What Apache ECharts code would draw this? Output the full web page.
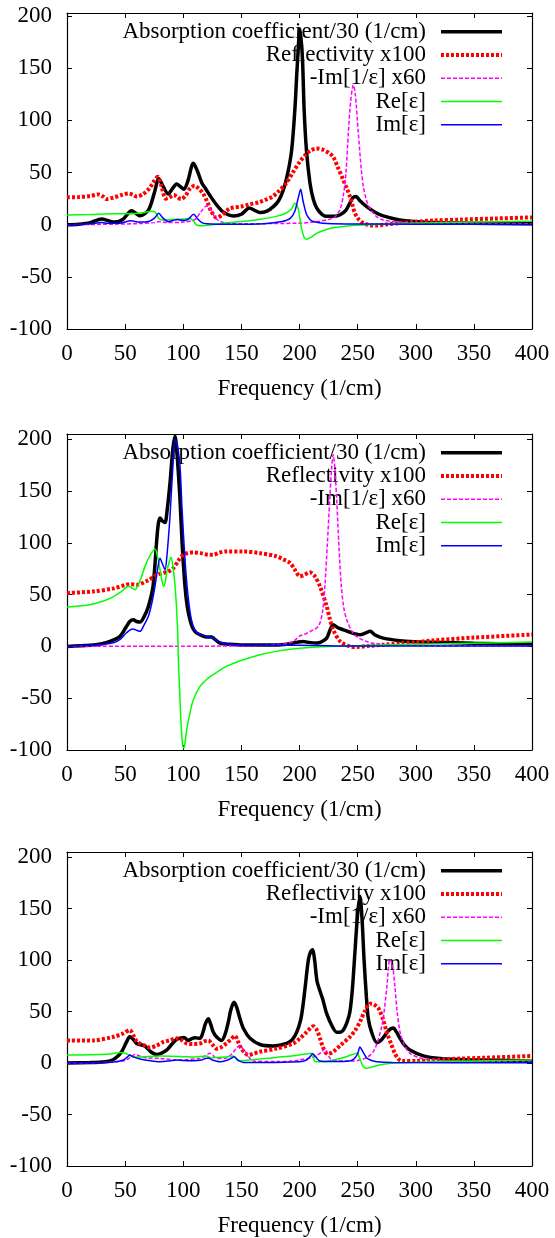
<!DOCTYPE html>
<html>
<head>
<meta charset="utf-8">
<script src="https://cdn.jsdelivr.net/npm/echarts@6/dist/echarts.min.js"></script>
<style>
html,body{margin:0;padding:0;background:#fff;}
#chart{width:555px;height:1238px;}
</style>
</head>
<body>
<div id="chart"></div>
<script>
// ---- labels ----
const seriesNames = ['Absorption coefficient/30 (1/cm)', 'Reflectivity x100', '-Im[1/ε] x60', 'Re[ε]', 'Im[ε]'];
const xTitle = 'Frequency (1/cm)';
const xTicks = [0, 50, 100, 150, 200, 250, 300, 350, 400];
const yTicks = [-100, -50, 0, 50, 100, 150, 200];
const yTops = [203, 205, 205];

// ---- panel 1 ----
const p1Absorption = [[0,0],[10,0.5],[20,2],[30,5.5],[35,4],[41,2.5],[48,5],[55.6,13.5],[62.8,8.5],[70,14],[75,30],[79,44],[83,36],[87,29.5],[91,35],[94.3,39],[97,37],[100.6,34],[104,42],[108.7,59],[112,52],[116,40],[119,35],[123,28],[128,20],[134,12.5],[143,8.4],[150,10],[156.8,16],[161,14],[166,11.6],[172,13],[177.5,17.3],[182,23],[186,33],[190,50],[193.3,72],[196,110],[198,151],[200.4,188],[202.5,160],[204,110],[206,71],[209,40],[212,24],[216,14],[223,8],[230,8],[235,9.5],[240,14],[243.4,21],[246,26],[248.6,27],[252,23],[257.8,17.3],[265,12],[272,8.4],[286,4.6],[300,3],[315,2],[350,1.5],[400,1]];
const p1Reflectivity = [[0,26.3],[10,26.5],[20,27.5],[27,29],[31,27],[34,24.6],[40,26],[47,28.5],[52.8,30],[56,29],[60,27],[65,29],[71,35],[75,42],[78,46],[81,38],[85,25],[88,26],[92,28.5],[95,26.5],[98,24.5],[102,28],[106,35],[109.7,37.4],[113,35],[117,30],[121,21],[124,13],[128.5,6.8],[133,9],[140,15.4],[150,17.5],[157,19.5],[165,21.5],[171,24],[177,27],[182,32],[188,39],[194,49.5],[200,60],[206,68],[210,71.5],[214.8,73],[220,72],[225,69],[229,65],[233,55],[238,42],[241,34],[243.4,27],[245.5,19],[247.7,11],[251,5],[255,1.4],[260,-0.3],[266,-0.8],[275,0.3],[286,1.5],[300,2.8],[315,4],[340,5],[370,6],[400,7]];
const p1LossFn = [[0,0],[40,0.5],[60,1],[75,2],[80,3],[85,2],[100,2.5],[110,5],[115,12],[120,18],[124,14],[128,6],[135,2],[150,1],[200,1.5],[215,3],[225,5],[230,7],[235,15],[238,30],[240,50],[242,88],[244,118],[246.3,134],[248,125],[250.6,88],[253,55],[255,36],[258,22],[261,15],[266,8],[272,4.6],[285,2.5],[300,1.8],[350,1],[400,0.8]];
const p1ReEps = [[0,9.4],[20,9.8],[40,10.5],[55,10.5],[65,11.5],[73,13],[76,12],[79,6],[82,4.6],[90,5],[100,5.5],[106,6],[109,3],[112,-0.5],[116,-1],[125,0],[135,1.5],[150,3],[165,5],[180,8],[188,11],[193,15],[196,20.5],[198.5,17],[200,8],[202,-5],[204,-12],[206,-14],[210,-12],[215,-8],[222,-5],[229,-3],[243,-1],[260,0],[300,1.5],[350,2.5],[400,3.4]];
const p1ImEps = [[0,0],[20,0.8],[30,2],[35,1.5],[45,1.5],[55,3.7],[62,2.5],[70,3],[75,6],[79,11],[82,7],[87,3],[91,4],[95,5],[100,4],[104,5],[109,10],[112,6],[116,2],[120,1],[140,0.5],[170,1],[185,3],[192,6],[196,13],[199,26],[201,34],[203,23],[206,10],[209,5],[212,3],[220,1.5],[240,0.8],[300,0.5],[400,0.3]];

// ---- panel 2 ----
const p2Absorption = [[0,0],[20,1],[30,2.5],[37,4.8],[45.6,9.7],[51,19],[54,24],[57,25.7],[60,24],[62.8,23.5],[66,28],[70,38.6],[74,58],[77,100],[78.5,118],[80,124],[82,121],[84.3,119.7],[86,130],[88.6,157.7],[91,190],[92.9,203],[95,180],[97.2,141.6],[99,100],[101.5,58],[103.5,38],[105.8,25.7],[108,18],[111.5,12.9],[116,10.5],[120,9],[124.4,9],[127,7],[131.6,3.2],[140,2],[151.7,1.3],[180,1.3],[190,2.3],[197.6,3.9],[203,4.8],[207,4],[214.8,3.2],[219,4.5],[223.4,8],[226,15],[229,21],[233,18],[237.7,16],[245,13],[252,11.3],[257,13],[260.7,14.5],[265,11],[272,8],[286.5,5.5],[300,4.5],[315,3.9],[350,3],[400,2.3]];
const p2Reflectivity = [[0,51.5],[22.6,53],[40,56],[51,59.5],[55,60],[60,59.5],[70,64],[77,69],[83,71],[87,72],[91.5,75.6],[96,83],[100,88.5],[104,90],[108.7,90.8],[115,90],[122,88.5],[126,88.5],[131,90.5],[137,91.7],[151.7,91.7],[166,90],[180,87],[186,84],[192,80.5],[196,74],[200.4,67.6],[204,69],[209,71.5],[213,68],[217.6,58],[223.4,38.6],[226,27],[229,16],[235,4.8],[243.4,0],[249,-0.6],[260,0.5],[272,1.6],[300,4],[315,5.8],[350,8.5],[400,11.4]];
const p2LossFn = [[0,0],[100,0.2],[150,0.5],[185,2],[194.7,4.8],[200,10],[205,12],[211.9,16],[215,18],[217.6,22.5],[220,35],[222,61],[224,100],[226,141.6],[227.5,170],[229,185],[230.5,170],[232,141.6],[234,95],[236,58],[238,38],[240.6,25.7],[246,12.9],[251,8],[257.8,4.8],[265,2.5],[275,1.6],[300,0.8],[400,0.4]];
const p2ReEps = [[0,38],[10,39],[22.6,41],[32,44],[40,48],[47,53],[52.8,58],[58.5,54.7],[63,64],[67,77],[71,87],[75.7,94],[78,86],[80,74],[82,62],[83,58],[84.5,62],[85.7,70.8],[88,82],[89.5,86],[91,78],[93,58],[95,20],[96,-19],[97,-45],[97.8,-67.6],[99,-90],[100,-98],[101,-97],[103,-80.5],[106,-63],[108.7,-51.5],[114.4,-38.6],[120,-32],[124.4,-28.3],[130,-24],[137,-19.3],[151.7,-12.9],[166,-8],[180,-4.8],[200.4,-1.9],[215,-0.5],[240,0.5],[300,2],[350,3],[400,4.2]];
const p2ImEps = [[0,0],[20,1],[30,2],[40,3.5],[46,7],[51,12.9],[56.5,16.7],[60,15.5],[62.8,14.5],[66,20],[70,29],[73,42],[75.7,58],[78,75],[80,85],[82,80],[84.3,74],[86,88],[88.6,125.5],[91,172],[93,199.5],[95,194],[97.2,174],[99,132],[101.5,83.7],[104,50],[107,25.7],[110,16],[114.4,11.3],[120,9.5],[124.4,8.7],[128,6],[134.5,3.2],[145,1.5],[170,1],[200,1],[230,0.5],[400,0.3]];

// ---- panel 3 ----
const p3Absorption = [[0,0],[20,0.5],[30,1],[37,2],[42,5],[47,11],[51,20],[54,25.5],[57,23],[60,19],[62.8,18],[67,16.5],[72,11],[77,8.4],[81,9.5],[85.7,12.6],[90,18],[94.3,23],[97,24],[100.6,24.8],[104.4,22],[107,23.5],[110,24.5],[114.4,24],[117,30],[119,38],[121.6,43],[123.5,38],[125.9,30],[129,25],[133,22],[136,28],[138.8,40],[141,52],[143.7,59],[146,54],[148.8,43],[152,33],[157.4,24],[166,18],[177.5,16.5],[189,19],[194,23],[197.6,30],[201,42],[203,56],[205,75],[207.6,100],[209.5,108],[211.3,110],[213,100],[215,80],[217.6,70],[220,62],[223.4,48],[228,36],[232,30],[235,30],[237.7,32],[241,40],[243.4,50],[245.5,72],[247.7,108],[250,145],[252,162],[253.8,140],[255.5,101],[257.5,65],[259.2,43],[262,30],[266.5,20],[270,22],[273.5,27],[277,32],[280.7,34],[283.5,30],[286.5,24],[290,18],[295,12.6],[306.5,7],[321,4.5],[343.8,3.2],[400,2]];
const p3Reflectivity = [[0,22],[22.6,22],[40,25.5],[48,28.5],[54,32],[57,27],[60,21],[62.8,19],[67,17],[71.4,15],[77,17],[83,20.6],[88,22],[94.3,24],[99,22],[103,19],[108,18.5],[114.4,19],[118,21],[121.6,22],[125,18],[128.7,14],[132,15],[137,19],[141,23],[144.5,26.5],[147,21],[150,14],[153,10],[156,7.7],[160,9],[166,11],[180,14],[194.7,19],[200.4,24],[206,30],[212,35.8],[215,32],[217.6,24],[220,16],[223.4,9.4],[226,9.5],[229,11],[236,18],[243.4,25.5],[248,32],[252,40],[256,50],[260.7,57.7],[264,57],[268,53],[272,42],[275,30],[279,18],[282,9.4],[285,4],[288,2],[300.8,2],[329.5,3.9],[360,5.2],[400,6.9]];
const p3LossFn = [[0,0],[30,0.5],[45,1.5],[51,3],[55,6],[58.5,8.4],[62,7],[68.5,5],[80,4.5],[94.3,3],[105,3.5],[114.4,4.5],[119,7],[123,9.4],[126,7],[128.7,4.5],[137,5],[142,9],[146,15],[148.8,17.4],[151,14],[154.5,9.4],[157,5],[160,2],[180,1.5],[194.7,2],[200,3],[209,5],[214,7],[217.6,9.4],[220,12],[222,14],[224,10],[226,5],[229,3],[240,2],[246,2],[255,4],[260,7],[263.5,11],[267,20],[270,32],[272,43],[275,72],[277.8,101],[280,95],[282,75],[284,50],[286.5,30],[290,18],[295,9.4],[305,4.5],[315,3],[350,1.5],[400,1]];
const p3ReEps = [[0,7.7],[20,8],[37,8.7],[45.6,10.3],[49,10],[53,8],[57,6],[60,5.8],[80,6.8],[100,6.2],[108.7,5.8],[120,6.8],[122,6],[124,5],[130,5.5],[137,5.8],[143,6.8],[145,5],[147,2],[152,2.5],[166,3.9],[180,5.5],[194.7,7],[205,8.8],[210.5,9.5],[212,6],[213.5,1.3],[220.5,1.3],[235,4.5],[245,8],[249.5,9.4],[251,7],[253,1],[255,-3.5],[257.8,-5.2],[262,-4],[266.5,-2.6],[272,-1.2],[280.7,0],[300,0.8],[315,1.3],[350,2],[400,3]];
const p3ImEps = [[0,0],[30,0.5],[40,1],[48.5,3],[52,6],[54,7.7],[57,6],[62.8,3.9],[70,2.5],[80,1.3],[88,2],[94.3,3],[100,2.5],[108.7,2.3],[116,3],[119,4.5],[121.6,5],[125,3],[131.6,1.3],[137,2.5],[141,4.5],[143.7,6],[147,3],[151.7,0.6],[170,0.5],[200,1.3],[206,3],[209,6],[211.3,9],[214,6],[217.6,2],[230,1.5],[243,2],[247,4],[250,9],[252,15.5],[254,12],[257.8,5],[262,2.5],[266.5,1.3],[280,0.6],[400,0.3]];

const panels = [
  [p1Absorption, p1Reflectivity, p1LossFn, p1ReEps, p1ImEps],
  [p2Absorption, p2Reflectivity, p2LossFn, p2ReEps, p2ImEps],
  [p3Absorption, p3Reflectivity, p3LossFn, p3ReEps, p3ImEps]
];

// ---- styling ----
const FONT = '"Liberation Serif", "Times New Roman", serif';
const FS = 23;
const lineStyles = [
  {color: '#000000', width: 3.5, type: 'solid'},
  {color: '#ff0000', width: 4, type: [3, 2]},
  {color: '#ff00ff', width: 1.5, type: [4, 2]},
  {color: '#00ff00', width: 1.5, type: 'solid'},
  {color: '#0000ff', width: 1.5, type: 'solid'}
];
const gridTops = [13, 434, 852];
const GRID_LEFT = 67, GRID_W = 465, GRID_H = 316;

const grid = [], xAxis = [], yAxis = [], series = [], legend = [];
const lineAxis = {show: true, onZero: false, lineStyle: {color: '#000', width: 1.2}};
const tickIn = {show: true, inside: true, length: 5, lineStyle: {color: '#000', width: 1}};
const labelStyle = {fontFamily: FONT, fontSize: FS, color: '#000'};

gridTops.forEach((top, i) => {
  grid.push({left: GRID_LEFT, top: top, width: GRID_W, height: GRID_H, containLabel: false});
  const xBase = {type: 'value', gridIndex: i, min: xTicks[0], max: xTicks[xTicks.length - 1],
    interval: xTicks[1] - xTicks[0], splitLine: {show: false}, axisLine: lineAxis, axisTick: tickIn};
  xAxis.push(Object.assign({}, xBase, {position: 'bottom',
    axisLabel: Object.assign({margin: 13}, labelStyle),
    name: xTitle, nameLocation: 'middle', nameGap: 48,
    nameTextStyle: {fontFamily: FONT, fontSize: FS, color: '#000'}}));
  xAxis.push(Object.assign({}, xBase, {position: 'top', axisLabel: {show: false}}));
  const yBase = {type: 'value', gridIndex: i, min: yTicks[0], max: yTops[i],
    interval: yTicks[1] - yTicks[0], splitLine: {show: false}, axisLine: lineAxis, axisTick: tickIn};
  yAxis.push(Object.assign({}, yBase, {position: 'left',
    axisLabel: Object.assign({margin: 15, showMaxLabel: false,
      formatter: v => (yTicks.indexOf(v) >= 0 ? String(v) : '')}, labelStyle)}));
  yAxis.push(Object.assign({}, yBase, {position: 'right', axisLabel: {show: false}}));

  panels[i].forEach((data, k) => {
    series.push({
      type: 'line', name: seriesNames[k], xAxisIndex: 2 * i, yAxisIndex: 2 * i,
      data: data, symbol: 'none', showSymbol: false, smooth: 0.3, clip: true, silent: true,
      lineStyle: lineStyles[k], itemStyle: {color: lineStyles[k].color}, z: 2 + k,
      animation: false
    });
  });

  legend.push({
    data: seriesNames, orient: 'vertical', align: 'right',
    right: 51, top: top + 7, padding: 0, itemGap: 0,
    itemWidth: 61, itemHeight: 14,
    lineStyle: {width: 'inherit'},
    itemStyle: {color: 'rgba(0,0,0,0)', borderColor: 'rgba(0,0,0,0)', borderWidth: 0, opacity: 0},
    textStyle: {fontFamily: FONT, fontSize: FS, color: '#000', lineHeight: 23.3, padding: [0, 10, 0, 0]},
    selectedMode: false
  });
});

const chart = echarts.init(document.getElementById('chart'), null, {renderer: 'canvas'});
chart.setOption({
  animation: false,
  backgroundColor: '#ffffff',
  grid, xAxis, yAxis, series, legend
});
</script>
</body>
</html>
